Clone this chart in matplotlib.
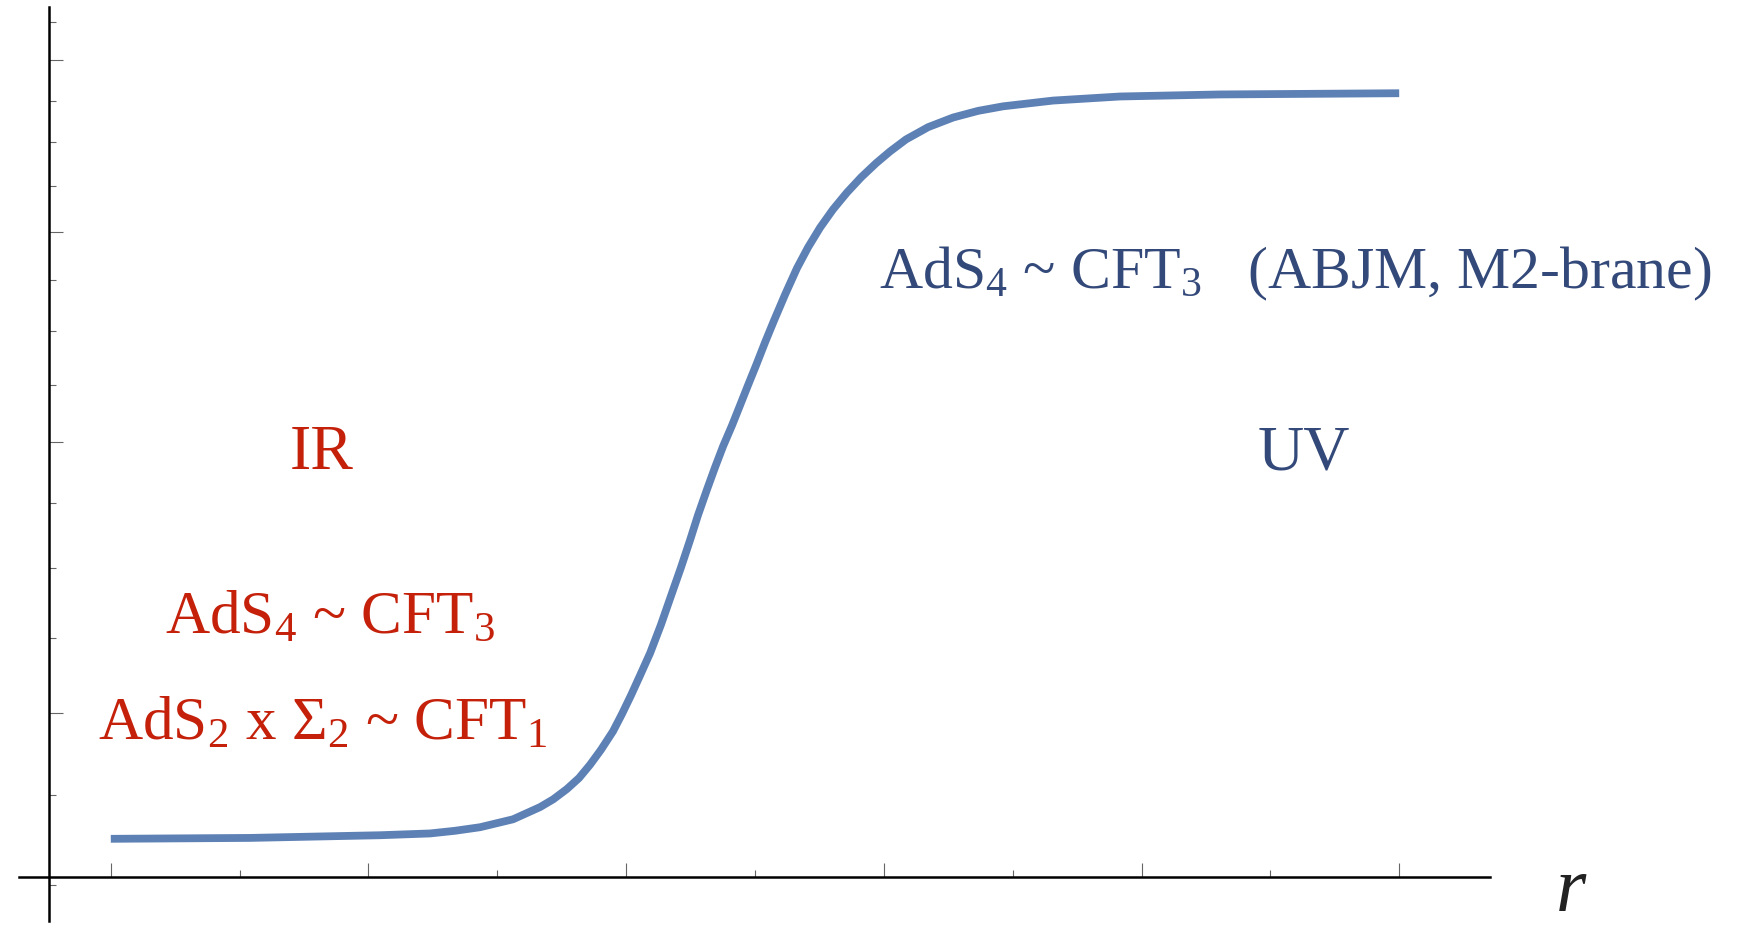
import numpy as np
import matplotlib
matplotlib.use("Agg")
import matplotlib.pyplot as plt
from matplotlib.ticker import FixedLocator, NullFormatter

plt.rcParams['mathtext.fontset'] = 'custom'
plt.rcParams['mathtext.rm'] = 'Liberation Serif'
plt.rcParams['mathtext.it'] = 'Liberation Serif:italic'
plt.rcParams['font.family'] = ['Liberation Serif', 'DejaVu Serif']

# curve (r, value on the log axis)
r_vals = [0.0, 0.540, 1.045, 1.239, 1.336, 1.433, 1.561, 1.666, 1.717, 1.770,
          1.817, 1.860, 1.902, 1.949, 1.984, 2.019, 2.054, 2.093, 2.135, 2.174,
          2.213, 2.248, 2.279, 2.314, 2.345, 2.376, 2.411, 2.442, 2.473, 2.504,
          2.539, 2.574, 2.617, 2.663, 2.706, 2.753, 2.803, 2.857, 2.912, 2.970,
          3.024, 3.086, 3.172, 3.269, 3.366, 3.463, 3.657, 3.917, 4.305, 5.0]
f_vals = [10.50, 10.51, 10.54, 10.56, 10.59, 10.63, 10.72, 10.86, 10.95, 11.07,
          11.20, 11.36, 11.54, 11.77, 11.99, 12.23, 12.49, 12.79, 13.18, 13.59,
          14.01, 14.42, 14.81, 15.22, 15.58, 15.93, 16.29, 16.64, 17.00, 17.36,
          17.79, 18.21, 18.72, 19.25, 19.68, 20.10, 20.49, 20.86, 21.20, 21.52,
          21.79, 22.07, 22.36, 22.59, 22.75, 22.86, 23.00, 23.10, 23.15, 23.18]

x_major = [0, 1, 2, 3, 4, 5]
x_minor = [0.5, 1.5, 2.5, 3.5, 4.5]
y_major = [12, 16, 20, 24]
y_minor = [10, 11, 13, 14, 15, 17, 18, 19, 21, 22, 23, 25]

red = '#C4200A'
navy = '#33497A'
curve = '#5E81B5'

fig = plt.figure(figsize=(17.37, 9.29), dpi=100)
ax = fig.add_axes([0, 0, 1, 1])
ax.set_yscale('log')
ax.set_xlim(-0.430, 6.311)
ax.set_ylim(9.551, 25.62)

ax.plot(r_vals, f_vals, color=curve, lw=5.6, solid_capstyle='butt',
        solid_joinstyle='round', zorder=3)

# Mathematica-style crossing axes
for s in ['top', 'right']:
    ax.spines[s].set_visible(False)
ax.spines['left'].set_position(('data', -0.24))
ax.spines['bottom'].set_position(('data', 10.08))
ax.spines['left'].set_bounds(9.62, 25.4)
ax.spines['bottom'].set_bounds(-0.357, 5.353)
for s in ['left', 'bottom']:
    ax.spines[s].set_linewidth(1.8)
    ax.spines[s].set_color('black')

ax.xaxis.set_major_locator(FixedLocator(x_major))
ax.xaxis.set_minor_locator(FixedLocator(x_minor))
ax.yaxis.set_major_locator(FixedLocator(y_major))
ax.yaxis.set_minor_locator(FixedLocator(y_minor))
for a in (ax.xaxis, ax.yaxis):
    a.set_major_formatter(NullFormatter())
    a.set_minor_formatter(NullFormatter())
ax.tick_params(which='major', direction='in', length=10, width=0.8, color='#666666')
ax.tick_params(which='minor', direction='in', length=5, width=0.8, color='#666666')

ax.text(5.667, 9.93, r'$r$', fontsize=56, ha='center', va='center', color='#222222')

ax.text(0.82, 15.81, 'IR', fontsize=46, color=red, ha='center', va='center')
ax.text(4.63, 15.81, 'UV', fontsize=46, color=navy, ha='center', va='center')
ax.text(0.85, 13.29, r'AdS$_4$ ~ CFT$_3$', fontsize=44, color=red,
        ha='center', va='center')
ax.text(0.82, 11.86, r'AdS$_2$ x $\Sigma_2$ ~ CFT$_1$', fontsize=44, color=red,
        ha='center', va='center')
ax.text(2.98, 19.15, r'AdS$_4$ ~ CFT$_3$   (ABJM, M2-brane)', fontsize=43,
        color=navy, ha='left', va='center')

fig.savefig('out.png', dpi=100)
